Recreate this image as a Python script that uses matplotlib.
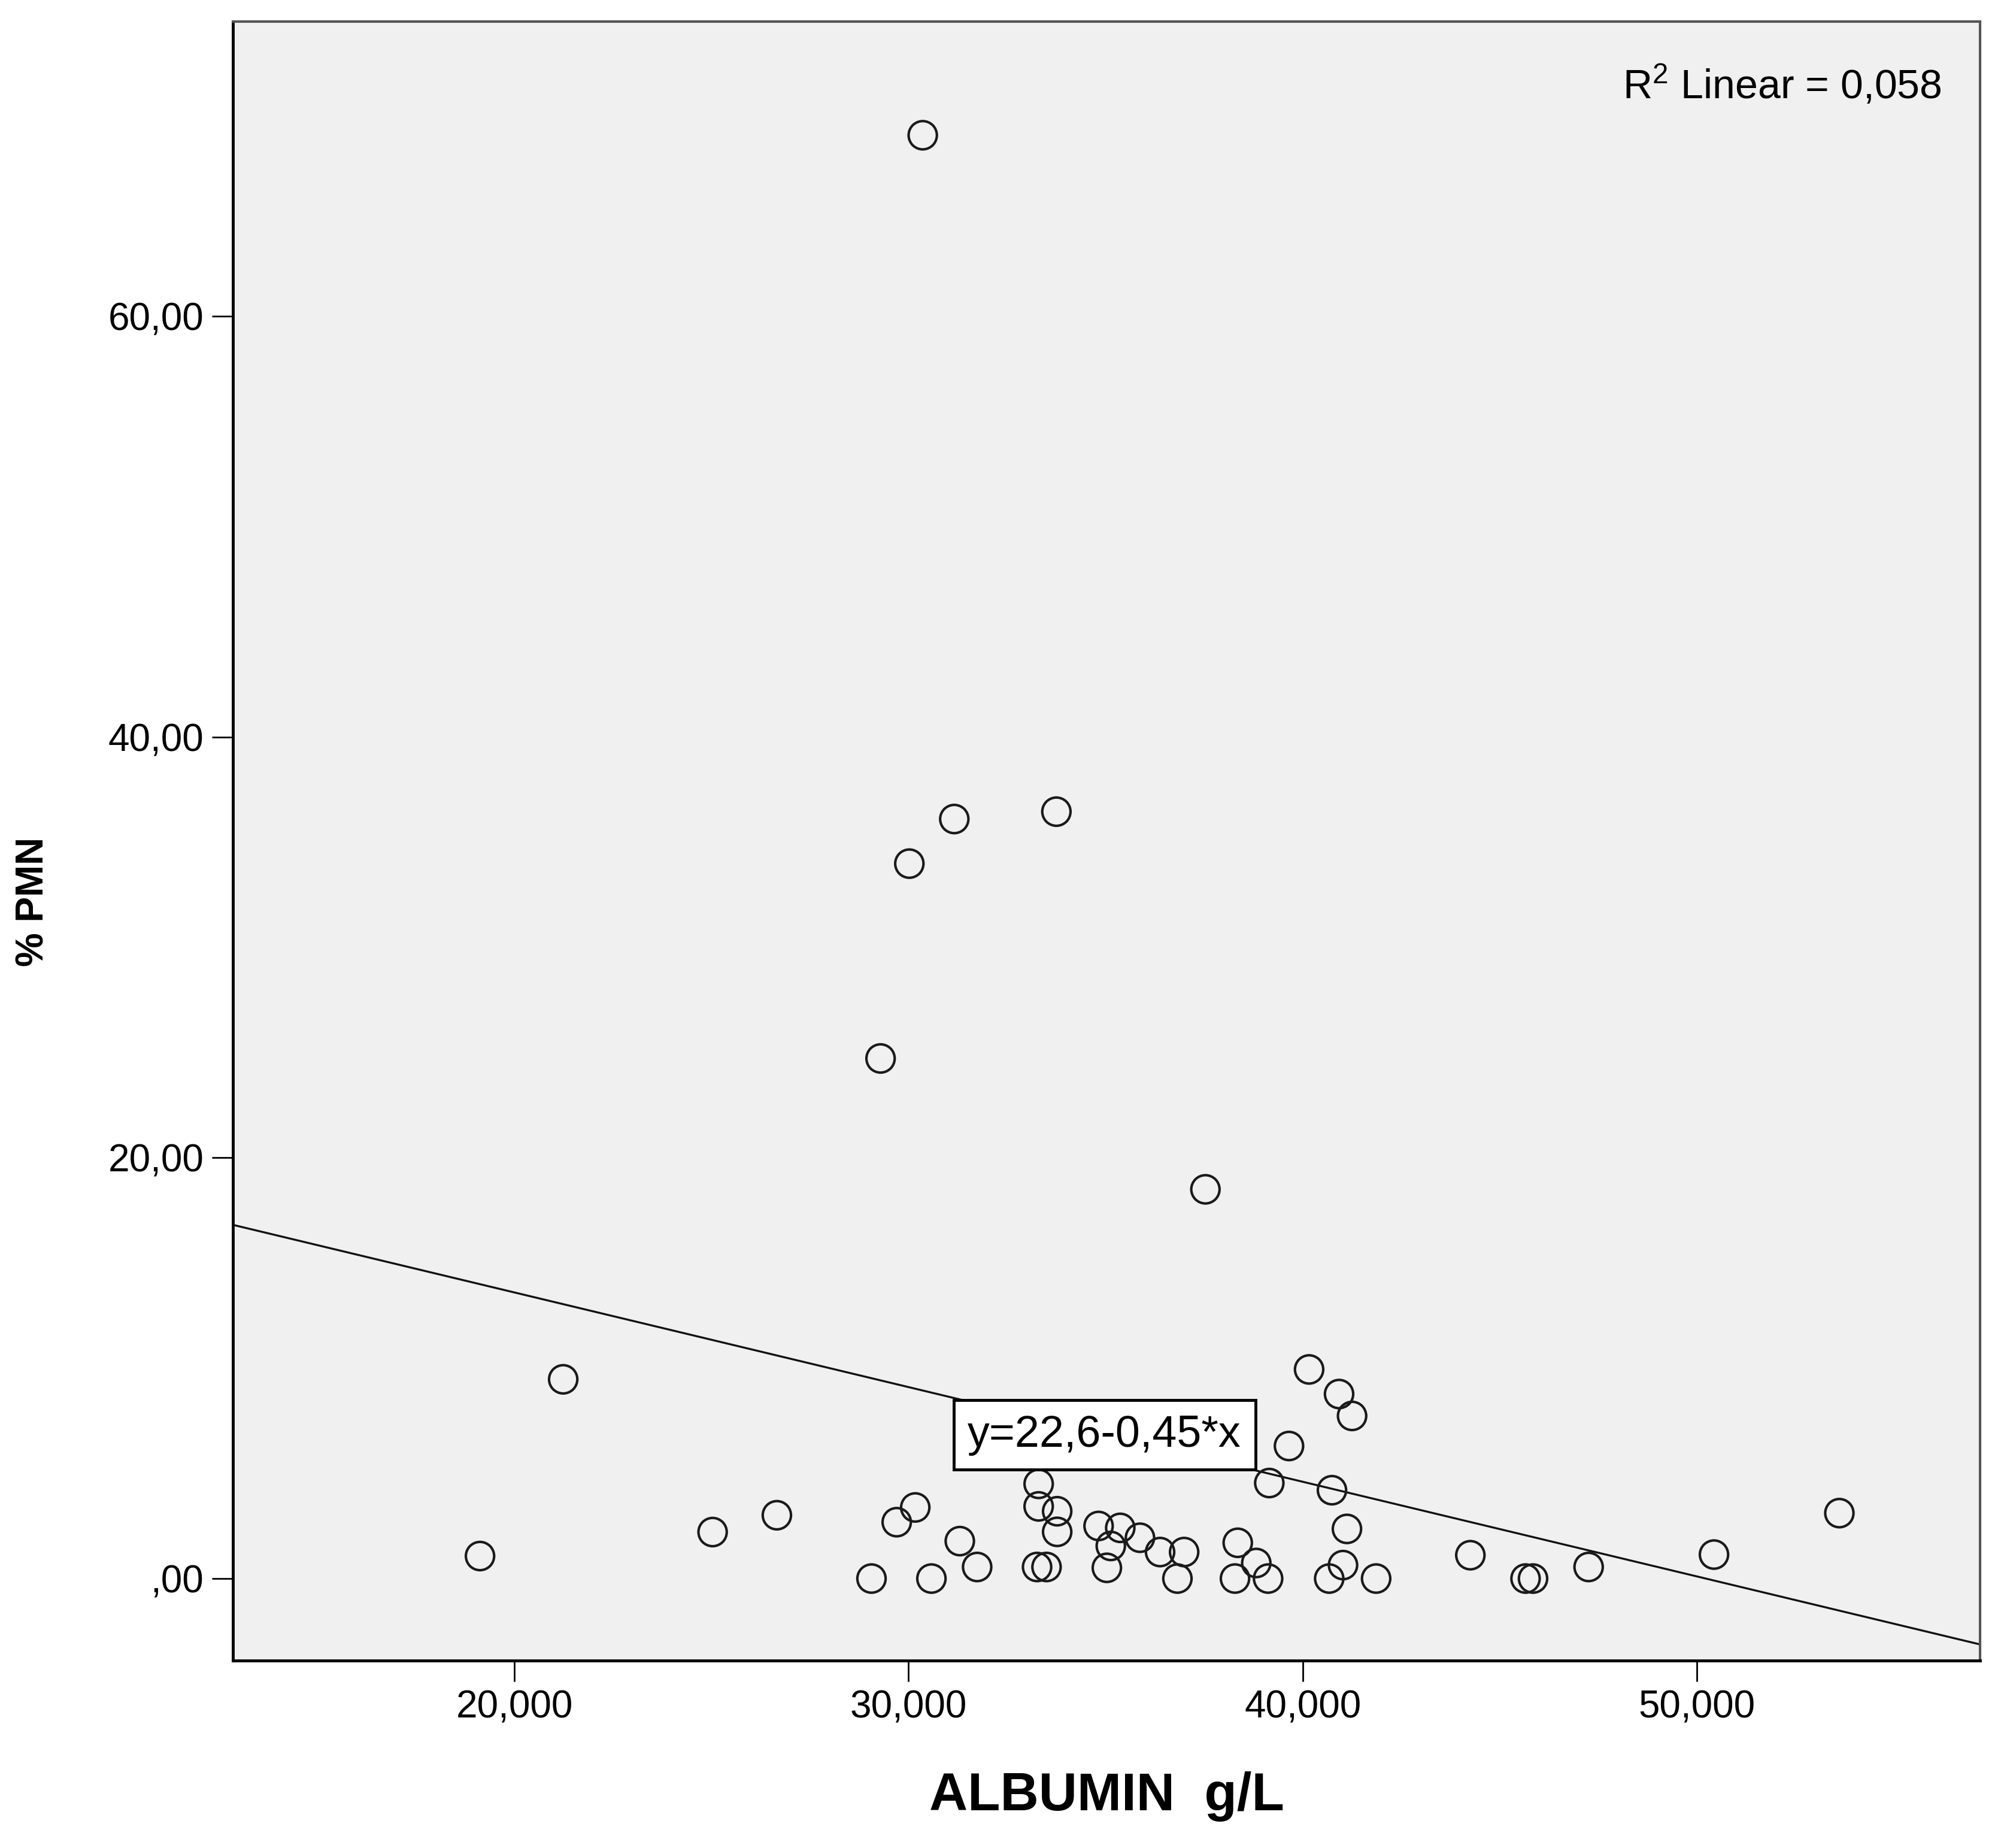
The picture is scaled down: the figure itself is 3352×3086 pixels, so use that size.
import matplotlib.pyplot as plt
import numpy as np

# values
albumin = [30.36, 31.16, 33.75, 30.02, 29.29, 37.53, 21.24, 40.16, 40.92, 41.25,
           39.65, 39.15, 40.74, 33.30, 33.30, 33.77, 33.77, 30.17, 29.70, 26.66,
           25.03, 19.13, 31.30, 31.74, 29.06, 30.58, 33.26, 33.50, 34.82, 35.37,
           35.87, 35.13, 35.03, 36.38, 36.99, 36.82, 38.35, 38.28, 38.82, 39.12,
           41.12, 41.02, 40.67, 41.86, 44.25, 45.65, 45.84, 47.25, 50.43, 53.61]
pmn = [68.6, 36.1, 36.45, 33.98, 24.72, 18.5, 9.47, 9.94, 8.77, 7.73,
       6.3, 4.54, 4.2, 4.5, 3.43, 3.2, 2.22, 3.38, 2.68, 3.01,
       2.21, 1.07, 1.78, 0.55, 0.0, 0.0, 0.55, 0.55, 2.50, 2.41,
       1.94, 1.55, 0.51, 1.26, 1.26, 0.0, 1.7, 0.0, 0.74, 0.0,
       2.36, 0.64, 0.0, 0.0, 1.11, 0.0, 0.0, 0.55, 1.14, 3.11]

intercept = 22.6
slope = -0.45
r2_text = r'R$^{2}$ Linear = 0,058'
eq_text = 'y=22,6-0,45*x'

x_ticks = [20, 30, 40, 50]
x_ticklabels = ['20,000', '30,000', '40,000', '50,000']
y_ticks = [0, 20, 40, 60]
y_ticklabels = [',00', '20,00', '40,00', '60,00']

plt.rcParams['font.family'] = ['Liberation Sans', 'DejaVu Sans']
plt.rcParams['mathtext.fontset'] = 'custom'
plt.rcParams['mathtext.rm'] = 'Liberation Sans'
plt.rcParams['mathtext.it'] = 'Liberation Sans'
plt.rcParams['mathtext.default'] = 'rm'

fig = plt.figure(figsize=(33.52, 30.86), dpi=100)
ax = fig.add_axes([0.116, 0.1014, 0.8706, 0.8869])
ax.set_facecolor('#f0f0f0')

ax.set_xlim(12.86, 57.18)
ax.set_ylim(-3.9, 74.0)

# fit line across the full x range
xl = np.array(ax.get_xlim())
ax.plot(xl, intercept + slope * xl, color='#111111', lw=2.4, zorder=2)

ax.scatter(albumin, pmn, s=34 ** 2, facecolors='none', edgecolors='#1a1a1a',
           linewidths=3, zorder=3)

ax.text(34.97, 6.82, eq_text, fontsize=53, ha='center', va='center', zorder=4,
        bbox=dict(boxstyle='square,pad=0.32', facecolor='white',
                  edgecolor='black', linewidth=3.5))

ax.text(0.978, 0.961, r2_text, transform=ax.transAxes, fontsize=49,
        ha='right', va='center')

ax.set_xticks(x_ticks)
ax.set_xticklabels(x_ticklabels)
ax.set_yticks(y_ticks)
ax.set_yticklabels(y_ticklabels)
ax.tick_params(axis='both', direction='out', length=25, width=2,
               labelsize=46, pad=10, colors='black')

for side in ['left', 'bottom']:
    ax.spines[side].set_linewidth(3.5)
    ax.spines[side].set_color('black')
for side in ['top', 'right']:
    ax.spines[side].set_linewidth(3)
    ax.spines[side].set_color('#555555')

ax.set_xlabel('ALBUMIN  g/L', fontsize=64, fontweight='bold', labelpad=55)
ax.set_ylabel('% PMN', fontsize=46, fontweight='bold')
ax.yaxis.set_label_coords(-0.104, 0.463)

fig.savefig('out.png', dpi=100, facecolor='white')
